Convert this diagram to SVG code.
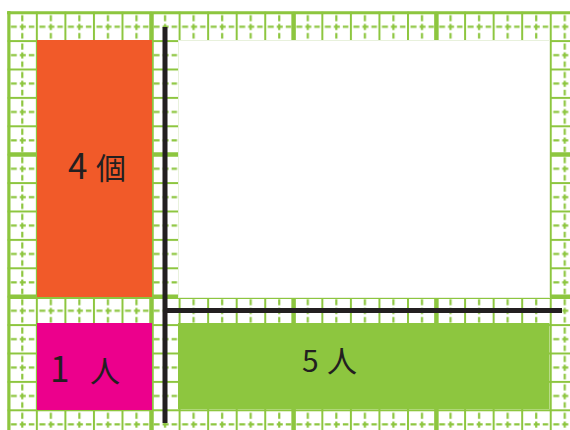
<svg xmlns="http://www.w3.org/2000/svg" width="570" height="430" viewBox="0 0 570 430">
<style>
.gl{fill:#8DC63F}
.dash{stroke:#8DC63F;stroke-width:2.2;fill:none}
.major{stroke:#8DC63F;stroke-width:4.5}
.axis{stroke:#231F20;stroke-width:5;stroke-linecap:butt}
.lbl{font-family:"Noto Sans CJK JP","Noto Sans",sans-serif;font-size:30px;fill:#231F20}
.big{font-size:35px}
</style>
<defs>
<pattern id="grid" patternUnits="userSpaceOnUse" x="7.3" y="11.7" width="28.55" height="28.4">
<rect class="gl" x="0" y="0" width="28.55" height="2"/>
<rect class="gl" x="0" y="0" width="2" height="28.4"/>
<path class="dash" d="M3.5,15H9.5M12.5,15H18.5M21.5,15H27M15,3.5V9.5M15,12.3V18.3M15,21.2V27"/>
</pattern>
</defs>
<rect x="0" y="0" width="570" height="430" fill="#fff"/>
<g id="grid-paper">
<rect x="7.3" y="11.7" width="562.7" height="418.3" fill="url(#grid)"/>
<line class="major" x1="9" y1="11" x2="9" y2="430" style="stroke-width:3"/>
<line class="major" x1="7" y1="12.7" x2="570" y2="12.7" style="stroke-width:3"/>
<line class="major" x1="151.5" y1="12" x2="151.5" y2="430"/>
<line class="major" x1="293.6" y1="12" x2="293.6" y2="430"/>
<line class="major" x1="436.4" y1="12" x2="436.4" y2="430"/>
<line class="major" x1="8" y1="154.6" x2="570" y2="154.6"/>
<line class="major" x1="8" y1="296.8" x2="570" y2="296.8"/>
</g>
<g id="white-area">
<rect x="178.5" y="40.5" width="371" height="257" fill="#fff" stroke="#e8f1dc" stroke-width="1"/>
</g>
<g id="node-4ko">
<rect x="37" y="40" width="115" height="257" fill="#F15A29"/>
<text class="lbl" x="68" y="179"><tspan class="big">4</tspan><tspan x="96">個</tspan></text>
</g>
<g id="node-1nin">
<rect x="37" y="323" width="115" height="87" fill="#EC008C"/>
<text class="lbl" x="50" y="381.5"><tspan class="big">1</tspan><tspan x="90">人</tspan></text>
</g>
<g id="node-5nin">
<rect x="178" y="323" width="371.5" height="86" fill="#8DC63F"/>
<text class="lbl" x="302" y="372">5<tspan x="327">人</tspan></text>
</g>
<g id="connectors">
<line class="axis" x1="165" y1="27" x2="165" y2="423"/>
<line class="axis" x1="163" y1="310.5" x2="562" y2="310.5"/>
</g>
</svg>
